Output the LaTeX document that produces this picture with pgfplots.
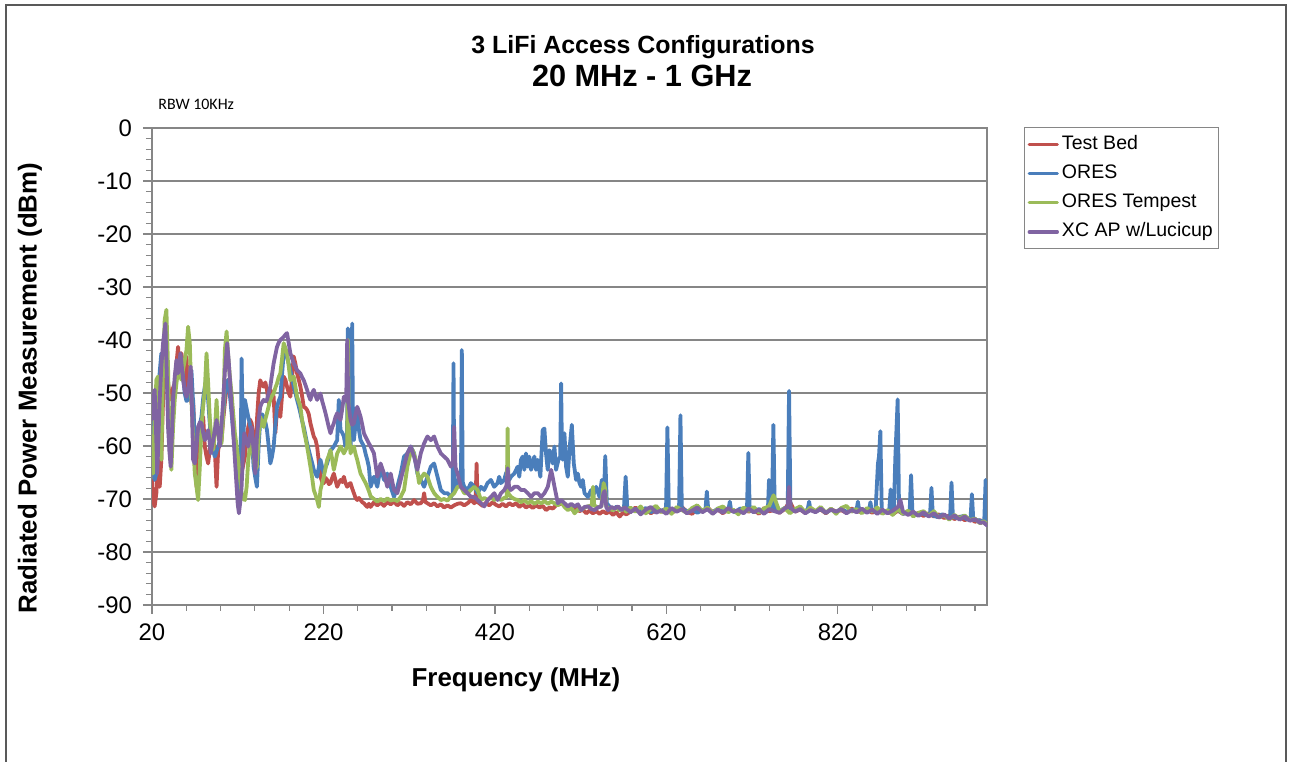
\documentclass[border=0pt]{standalone}
\usepackage{pgfplots}
\pgfplotsset{compat=1.18}
\usepackage{fontspec}
\setmainfont{Liberation Sans}
\newfontfamily\calibri{Carlito}

\definecolor{tbred}{RGB}{192,80,77}
\definecolor{oblue}{RGB}{74,126,187}
\definecolor{otgreen}{RGB}{155,187,89}
\definecolor{xcpurple}{RGB}{128,100,162}
\definecolor{gridgray}{RGB}{134,134,134}
\definecolor{framegray}{RGB}{89,89,89}

\begin{document}
\begin{tikzpicture}
\useasboundingbox (0,0) rectangle (645bp,381bp);
% chart area border (open at the bottom edge of the page)
\draw[framegray, line width=0.8bp] (3bp,-2bp) -- (3bp,378.5bp) -- (643bp,378.5bp) -- (643bp,-2bp);
\node[font=\bfseries\fontsize{12.5}{15}\selectfont] at (321.5bp,357.5bp) {3 LiFi Access Configurations};
\node[font=\bfseries\fontsize{15.4}{18}\selectfont] at (321bp,343bp) {20 MHz - 1 GHz};
\node[anchor=west, font=\calibri\fontsize{8}{10}\selectfont, inner sep=0pt] at (79bp,329bp) {RBW 10KHz};
\node[font=\bfseries\fontsize{13}{15}\selectfont] at (258bp,41bp) {Frequency (MHz)};
\node[font=\bfseries\fontsize{13}{15}\selectfont, rotate=90] at (15bp,187bp) {Radiated Power Measurement (dBm)};

\begin{axis}[
  at={(76bp,78.5bp)}, anchor=south west,
  scale only axis, width=417.5bp, height=238.5bp,
  xmin=20, xmax=994, ymin=-90, ymax=0,
  xtick={20,220,420,620,820},
  minor xtick={60,100,...,980},
  ytick={-90,-80,...,0},
  minor ytick={-88,-86,...,-2},
  tick align=outside,
  xtick pos=left, ytick pos=left,
  major tick length=4.5bp, minor tick length=3bp,
  every tick/.style={gridgray, line width=0.6bp},
  ymajorgrids, major grid style={gridgray, line width=0.6bp},
  axis line style={gridgray, line width=0.6bp},
  ticklabel style={font=\fontsize{12}{14}\selectfont},
  yticklabel style={xshift=-2bp},
  xticklabel style={yshift=-1.5bp},
  /pgf/number format/assume math mode=true,
  clip=true,
  legend style={at={(1.0443,1.002)}, anchor=north west, draw=gridgray, line width=0.6bp,
    font=\fontsize{9.8}{11}\selectfont, legend cell align=left,
    inner xsep=1.5bp, inner ysep=1bp,
    nodes={inner xsep=1.5bp, inner ysep=2.6bp, text height=7.2bp, text depth=2.2bp}},
  legend image code/.code={\draw[#1, line width=1.7bp] (0bp,0bp) -- (14bp,0bp);},
  every axis plot/.append style={line width=1.9bp, line join=round, line cap=round},
]
% Test Bed
\addplot[tbred] coordinates {
(20.0,-66.5) (21.2,-70.2) (23.1,-71.4) (25.1,-68.9) (27.0,-62.6) (29.0,-67.7) (30.9,-62.6) (32.9,-51.3)
(34.8,-45.0) (36.8,-41.3) (38.7,-48.2) (40.7,-50.5) (42.6,-51.3) (44.6,-49.0) (46.5,-48.2) (48.5,-44.5)
(50.4,-41.3) (52.4,-46.9) (54.3,-42.5) (56.3,-45.0) (58.2,-48.8) (60.2,-43.1) (62.1,-50.1) (64.1,-45.0)
(66.0,-51.9) (68.0,-51.3) (69.9,-59.5) (71.9,-67.7) (73.8,-60.1) (75.8,-59.0) (77.7,-57.6) (79.7,-54.5)
(81.6,-60.1) (83.6,-62.0) (85.5,-63.3) (87.5,-60.5) (89.4,-57.6) (91.4,-59.0) (93.3,-60.7) (95.3,-67.7)
(97.2,-60.7) (99.2,-59.5) (101.1,-58.9) (103.1,-55.0) (105.0,-51.9) (107.0,-49.0) (108.9,-47.5) (110.9,-49.0)
(112.8,-51.3) (114.8,-55.5) (116.7,-59.5) (118.7,-62.0) (120.6,-63.9) (122.6,-65.5) (124.5,-65.2) (126.5,-63.5)
(128.4,-62.0) (130.4,-58.5) (132.3,-56.4) (134.3,-55.0) (136.2,-55.7) (138.5,-58.2) (140.5,-65.8) (142.4,-55.1)
(144.4,-50.0) (146.3,-47.6) (148.3,-48.5) (150.2,-48.8) (152.2,-48.0) (154.1,-49.4) (156.1,-51.9) (158.0,-49.4)
(160.0,-50.0) (161.9,-50.7) (163.9,-57.5) (165.8,-53.2) (167.8,-53.5) (169.7,-54.5) (171.7,-50.5) (173.6,-46.9)
(175.6,-47.5) (177.5,-48.8) (179.5,-50.0) (181.4,-50.7) (183.4,-47.0) (185.3,-43.1) (187.3,-44.5) (189.2,-46.3)
(191.2,-47.5) (193.1,-48.8) (195.0,-50.5) (197.0,-52.6) (199.0,-52.8) (200.9,-53.2) (202.9,-54.0) (204.8,-55.7)
(206.8,-57.0) (208.7,-58.2) (210.7,-58.8) (212.6,-60.1) (214.6,-63.0) (216.5,-65.8) (218.5,-66.8) (220.4,-67.0)
(222.4,-66.0) (224.3,-66.4) (226.3,-67.2) (228.2,-67.0) (230.2,-66.0) (232.1,-65.2) (234.1,-66.5) (236.0,-67.7)
(237.9,-67.0) (239.9,-66.4) (241.9,-66.8) (243.8,-65.8) (245.7,-67.0) (247.7,-67.7) (249.6,-67.2) (251.6,-67.0)
(253.5,-68.0) (255.5,-68.9) (257.4,-69.8) (259.4,-70.2) (261.4,-69.8) (263.3,-70.2) (265.3,-70.6) (267.2,-70.8)
(269.2,-71.2) (271.1,-71.5) (273.0,-70.9) (275.0,-71.5) (278.9,-70.6) (282.8,-71.2) (286.7,-70.7) (290.6,-71.3)
(294.5,-70.6) (298.4,-71.0) (302.3,-70.5) (306.2,-71.2) (310.1,-70.7) (314.0,-71.3) (317.9,-70.6) (321.8,-71.0)
(325.7,-70.2) (329.6,-70.9) (333.5,-70.8) (336.0,-70.3) (337.4,-68.9) (339.0,-70.6) (341.3,-70.8) (345.2,-71.2)
(349.1,-70.8) (353.0,-71.4) (356.9,-71.0) (360.8,-71.6) (364.7,-71.2) (368.6,-71.6) (372.5,-71.2) (376.4,-70.9)
(380.3,-70.8) (384.2,-71.2) (388.1,-70.8) (392.0,-70.2) (395.9,-70.8) (397.5,-70.5) (398.6,-63.3) (399.8,-70.6)
(401.7,-70.8) (405.6,-71.3) (409.5,-70.7) (413.4,-71.2) (417.3,-70.6) (421.2,-71.1) (425.1,-71.4) (429.0,-70.9)
(432.9,-71.4) (436.8,-70.8) (440.7,-71.2) (444.6,-70.8) (448.5,-71.5) (452.4,-71.0) (456.3,-71.6) (460.2,-71.2)
(464.1,-71.7) (468.0,-71.2) (471.9,-71.6) (475.8,-71.3) (479.7,-72.1) (483.6,-71.6) (487.5,-71.8) (491.4,-71.2)
(495.3,-71.0) (499.2,-70.8) (503.1,-71.6) (507.0,-71.4) (510.9,-72.1) (514.8,-71.8) (518.7,-72.3) (522.6,-72.0)
(526.5,-72.7) (530.4,-72.2) (534.3,-72.7) (538.2,-72.3) (542.1,-72.8) (546.0,-72.3) (549.9,-72.7) (553.8,-72.4)
(557.7,-73.0) (561.6,-72.5) (565.5,-73.3) (569.4,-72.6) (573.3,-72.9)
(578,-72.4) (584,-71.6) (590,-72.5) (596,-71.9) (602,-72.7) (608,-72.0) (614,-72.4) (620,-71.7)
(626,-72.6) (632,-72.1) (638,-71.5) (644,-72.4) (650,-72.8) (656,-71.9) (662,-72.3) (668,-71.6)
(674,-72.5) (680,-72.0) (686,-72.7) (692,-71.8) (698,-72.3) (704,-72.6) (710,-71.9) (716,-72.4)
(722,-72.0) (728,-72.8) (734,-71.7) (740,-72.3) (746,-72.1) (752,-72.6) (758,-71.9) (764,-70.5)
(770,-72.4) (776,-72.0) (782,-72.6) (788,-71.8) (794,-72.3) (800,-72.0) (806,-72.7) (812,-71.9)
(818,-72.4) (824,-72.1) (830,-72.6) (836,-71.8) (842,-72.3) (848,-72.5) (854,-71.9) (860,-72.6)
(866,-72.0) (872,-72.7) (878,-72.3) (884,-72.9) (890,-72.2) (896,-72.8) (902,-72.4) (908,-73.1)
(914,-72.6) (920,-73.2) (926,-72.7) (932,-73.3) (938,-72.9) (944,-73.6) (950,-73.1) (956,-73.8)
(962,-73.3) (968,-74.0) (974,-73.6) (980,-74.3) (986,-74.0) (990,-74.4) (994,-74.8)
};
\addlegendentry{Test Bed}
% ORES
\addplot[oblue] coordinates {
(20.0,-58.0) (21.2,-50.7) (23.1,-66.4) (25.1,-65.2) (27.0,-51.3) (29.0,-46.0) (30.9,-42.5) (32.9,-44.0)
(34.8,-41.3) (36.8,-40.0) (38.7,-53.2) (40.7,-55.0) (42.6,-56.4) (44.6,-52.0) (46.5,-48.2) (48.5,-47.0)
(50.4,-45.7) (52.4,-46.5) (54.3,-44.4) (56.3,-47.0) (58.2,-50.1) (60.2,-51.5) (62.1,-51.3) (64.1,-48.0)
(66.0,-45.7) (68.0,-52.0) (69.9,-58.9) (71.9,-58.0) (73.8,-57.0) (75.8,-56.0) (77.7,-54.5) (79.7,-51.0)
(81.6,-48.8) (83.6,-46.9) (85.5,-51.3) (87.5,-56.0) (89.4,-59.5) (91.4,-61.0) (93.3,-62.0) (95.3,-61.0)
(97.2,-60.1) (99.2,-59.0) (101.1,-57.6) (103.1,-54.0) (105.0,-50.1) (107.0,-48.5) (108.9,-47.5) (110.9,-50.5)
(112.8,-53.8) (114.8,-57.5) (116.7,-60.7) (118.7,-63.0) (120.6,-65.2) (122.0,-68.5) (122.6,-70.2) (123.6,-60.0)
(124.5,-43.5) (125.4,-52.0) (126.5,-58.9) (128.4,-51.3) (130.4,-53.0) (132.3,-54.5) (134.3,-56.0) (136.2,-57.6)
(138.5,-63.9) (140.5,-66.0) (142.4,-67.7) (144.4,-60.0) (146.3,-55.1) (148.3,-54.0) (150.2,-54.5) (152.2,-55.5)
(154.1,-57.0) (156.1,-60.0) (158.0,-63.3) (160.0,-62.0) (161.9,-60.1) (163.9,-56.0) (165.8,-52.6) (167.8,-51.5)
(169.7,-50.7) (171.7,-46.5) (173.6,-42.5) (175.6,-42.8) (177.5,-43.1) (179.5,-44.5) (181.4,-45.7) (183.4,-47.2)
(185.3,-48.8) (187.3,-50.0) (189.2,-51.3) (191.2,-52.5) (193.1,-53.8) (195.0,-55.2) (197.0,-56.4) (199.0,-58.0)
(200.9,-59.5) (202.9,-60.8) (204.8,-62.0) (206.8,-63.2) (208.7,-64.5) (210.7,-65.2) (212.6,-65.8) (214.6,-64.0)
(216.5,-62.6) (218.5,-64.0) (220.4,-65.2) (222.4,-64.0) (224.3,-63.3) (226.3,-62.0) (228.2,-60.8) (230.2,-60.5)
(232.1,-60.1) (234.1,-59.5) (236.0,-58.9) (237.9,-51.3) (239.9,-57.0) (241.9,-57.5) (243.8,-58.2) (245.7,-60.1)
(247.5,-58.0) (248.5,-37.8) (249.6,-58.0) (251.6,-60.1) (252.5,-57.0) (253.5,-36.9) (254.5,-57.0) (255.5,-58.9)
(257.4,-56.0) (259.4,-53.2) (261.4,-57.0) (263.3,-58.9) (265.3,-59.5) (267.2,-60.1) (269.2,-61.5) (271.1,-62.6)
(273.0,-64.0) (275.0,-67.7) (278.9,-65.8) (282.8,-67.7) (286.7,-63.9) (290.6,-66.4) (294.5,-65.2) (298.4,-67.7)
(302.3,-69.6) (306.2,-67.7) (310.1,-65.2) (314.0,-62.0) (317.9,-61.4) (321.8,-60.1) (325.7,-61.4) (329.6,-65.2)
(333.5,-66.4) (337.4,-67.7) (341.3,-65.8) (345.2,-63.9) (349.1,-63.3) (353.0,-65.8) (356.9,-68.3) (360.8,-68.9)
(364.7,-68.9) (368.6,-69.6) (370.8,-69.0) (371.7,-44.4) (372.6,-68.5) (374.4,-67.7) (378.3,-65.8) (380.4,-66.5)
(381.4,-41.9) (382.4,-66.8) (384.2,-67.7) (388.1,-68.3) (392.0,-67.0) (395.9,-67.7) (399.8,-68.9) (403.7,-67.7)
(407.5,-68.3) (411.4,-67.0) (415.3,-66.4) (419.2,-67.7) (423.1,-67.0) (425.0,-65.8) (427.0,-67.0) (430.9,-66.4)
(432.8,-65.2) (434.8,-64.5) (436.7,-66.4) (438.7,-65.8) (442.6,-65.2) (446.5,-63.9) (448.4,-65.8) (450.4,-62.6)
(452.3,-62.0) (454.3,-64.5) (456.2,-61.4) (458.2,-63.9) (460.1,-62.0) (462.1,-64.5) (464.0,-63.3) (466.0,-62.0)
(467.9,-64.5) (469.9,-62.6) (473.0,-65.8) (475.7,-57.0) (477.7,-56.7) (479.6,-61.4) (481.6,-64.5) (483.5,-60.8)
(485.5,-61.4) (487.4,-63.3) (489.4,-60.1) (491.3,-64.5) (494.1,-62.6) (496.2,-62.0) (497.2,-48.2) (498.2,-61.0)
(499.1,-62.6) (501.1,-57.6) (503.0,-63.9) (505.0,-65.8) (506.9,-60.8) (509.7,-56.0) (512.0,-63.3) (514.7,-66.4)
(516.7,-65.2) (518.6,-67.0) (520.6,-67.7) (522.5,-66.4) (524.5,-68.9) (528.4,-69.6) (532.3,-68.3) (534.2,-69.6)
(538.1,-67.7) (542.0,-69.6) (544.7,-66.4) (547.0,-70.2) (548.7,-61.9) (550.5,-70.8) (554.0,-71.5) (558.0,-72.1)
(562.0,-71.4) (566.0,-72.0) (570.5,-71.8) (572.5,-65.8) (574.5,-72.0)
(578,-72.4) (584,-71.9) (590,-72.3) (596,-71.7) (602,-72.5) (608,-71.8) (614,-72.2) (619.6,-72.0)
(621.2,-56.5) (622.8,-71.8) (628,-72.3) (634.8,-71.9) (636.4,-54.2) (638,-71.7) (644,-72.4) (650,-71.9)
(656,-72.6) (662,-72.1) (665.6,-72.0) (667.2,-68.6) (668.8,-72.0) (674,-72.5) (680,-71.8) (686,-72.4)
(692.5,-71.9) (694,-70.5) (695.5,-72.1) (700,-72.5) (706,-71.8) (714,-72.2) (715.6,-61.3) (717.2,-72.0)
(722,-72.5) (728,-71.9) (734,-72.4) (738.5,-71.8) (739.7,-66.4) (741,-70.5) (743.2,-71.5) (744.8,-56.0)
(746.4,-71.9) (752,-72.3) (758,-71.7) (761.5,-72.0) (763.1,-49.6) (764.7,-71.8) (770,-72.3) (776,-71.9)
(782,-72.5) (785,-71.8) (786.5,-70.5) (788,-72.0) (794,-72.4) (800,-71.9) (806,-72.6) (812,-72.0)
(818,-72.5) (824,-71.8) (830,-72.4) (836,-72.1) (842,-71.9) (843.4,-70.5) (845,-72.2) (850,-72.4)
(856.5,-72.0) (858,-70.6) (859.5,-72.2) (864,-72.3) (866.8,-63.3) (868,-62.0) (869.6,-57.2) (871.2,-72.0)
(876,-72.6) (880,-72.0) (881.6,-68.2) (883,-72.3) (885.5,-71.5) (887,-62.5) (889.8,-51.2) (891.4,-72.2)
(896,-72.8) (902,-72.5) (903.8,-72.3) (905.4,-65.5) (907,-72.4) (912,-73.0) (918,-72.6) (924,-73.1)
(927.6,-72.9) (929.2,-67.9) (930.8,-73.1) (936,-73.4) (942,-72.9) (948,-73.5) (951,-73.2) (952.6,-66.9)
(954.2,-73.4) (960,-73.6) (966,-73.2) (971,-73.9) (974.8,-73.6) (976.4,-69.1) (978,-73.9) (984,-74.0)
(989,-74.3) (990.8,-74.1) (992.4,-66.4) (993.4,-74.5) (994,-75.0)
};
\addlegendentry{ORES}
% ORES Tempest
\addplot[otgreen] coordinates {
(20.0,-60.0) (21.2,-65.2) (23.1,-54.5) (25.1,-47.5) (27.0,-46.9) (29.0,-57.6) (30.9,-62.6) (32.9,-45.0)
(34.8,-36.2) (36.8,-34.3) (38.7,-45.0) (40.7,-60.7) (42.6,-64.5) (44.6,-56.4) (46.5,-51.3) (48.5,-48.2)
(50.4,-45.7) (52.4,-46.5) (54.3,-47.5) (56.3,-45.5) (58.2,-43.8) (60.2,-41.9) (62.1,-37.5) (64.1,-40.6)
(66.0,-51.3) (68.0,-58.9) (69.9,-65.2) (71.9,-67.7) (73.8,-70.2) (75.8,-63.9) (77.7,-56.4) (79.7,-52.5)
(81.6,-49.4) (83.6,-42.5) (85.5,-48.2) (87.5,-55.0) (89.4,-58.9) (91.4,-60.7) (93.3,-57.6) (95.3,-51.3)
(97.2,-57.6) (99.2,-59.0) (101.1,-59.5) (103.1,-53.8) (105.0,-41.9) (107.0,-38.4) (108.9,-43.1) (110.9,-47.0)
(112.8,-50.1) (114.8,-54.0) (116.7,-57.6) (118.7,-60.0) (120.6,-62.6) (122.6,-66.0) (124.5,-68.9) (126.5,-70.0)
(128.4,-70.2) (130.4,-67.7) (132.3,-62.6) (134.3,-60.0) (136.2,-58.9) (138.5,-62.0) (140.5,-64.5) (142.4,-63.9)
(144.4,-58.0) (146.3,-54.5) (148.3,-55.5) (150.2,-56.4) (152.2,-55.0) (154.1,-53.8) (156.1,-52.5) (158.0,-51.3)
(160.0,-50.5) (161.9,-50.1) (163.9,-49.0) (165.8,-48.2) (167.8,-47.0) (169.7,-46.3) (171.7,-43.5) (173.6,-40.6)
(175.6,-41.5) (177.5,-42.5) (179.5,-45.0) (181.4,-47.6) (183.4,-47.2) (185.3,-46.9) (187.3,-48.8) (189.2,-50.7)
(191.2,-51.6) (193.1,-52.6) (195.0,-55.0) (197.0,-57.0) (199.0,-58.5) (200.9,-60.1) (202.9,-62.0) (204.8,-63.9)
(206.8,-66.0) (208.7,-68.3) (210.7,-69.2) (212.6,-70.2) (214.6,-71.5) (216.5,-68.3) (218.5,-67.0) (220.4,-65.8)
(222.4,-64.2) (224.3,-62.6) (226.3,-61.8) (228.2,-60.8) (230.2,-62.5) (232.1,-64.5) (234.1,-63.0) (236.0,-61.4)
(237.9,-60.8) (239.9,-60.1) (241.9,-60.7) (243.8,-61.4) (246.5,-60.5) (247.7,-60.1) (248.6,-40.0) (249.6,-57.0)
(251.6,-61.4) (253.5,-60.5) (255.5,-60.1) (257.4,-61.5) (259.4,-62.6) (261.4,-64.0) (263.3,-65.2) (265.3,-65.8)
(267.2,-66.4) (269.2,-67.0) (271.1,-67.7) (273.0,-68.5) (275.0,-69.5) (278.9,-70.0) (282.8,-70.5) (286.7,-70.0)
(290.6,-70.4) (294.5,-69.9) (298.4,-70.3) (302.3,-70.1) (306.2,-70.4) (310.1,-69.6) (314.0,-68.3) (317.9,-63.9)
(321.8,-61.2) (323.8,-60.7) (325.7,-61.5) (327.6,-62.6) (331.5,-67.0) (334.0,-66.0) (337.4,-65.2) (341.3,-65.8)
(345.2,-67.7) (349.1,-68.9) (353.0,-69.6) (356.9,-70.2) (360.8,-70.0) (364.7,-70.3) (368.6,-69.5) (372.5,-68.9)
(376.4,-67.7) (380.3,-67.7) (384.2,-68.9) (388.1,-68.9) (392.0,-68.3) (395.9,-67.7) (399.8,-68.3) (403.7,-70.2)
(407.6,-69.8) (411.5,-70.2) (415.4,-69.7) (419.3,-70.2) (423.2,-69.8) (427.1,-70.2) (430.9,-69.8) (433.8,-69.6)
(434.8,-56.7) (435.8,-69.0) (438.8,-69.6) (442.7,-70.0) (446.6,-70.2) (450.5,-70.6) (454.4,-70.2) (458.3,-70.8)
(462.2,-70.4) (466.1,-70.9) (470.0,-70.5) (473.9,-70.8) (477.8,-70.4) (481.7,-70.9) (485.6,-70.5) (489.5,-70.8)
(493.4,-71.2) (497.3,-70.6) (501.2,-71.5) (505.1,-72.1) (509.0,-71.6) (512.9,-72.7) (516.8,-72.0) (520.7,-72.1)
(524.6,-71.6) (528.5,-71.4) (533.0,-71.2) (534.4,-67.7) (535.8,-71.2) (540.0,-71.6) (544.1,-71.4) (546.8,-67.0)
(548.5,-68.0) (549.9,-71.4) (553.8,-71.9) (557.7,-72.1) (561.6,-71.6) (565.5,-72.2) (569.4,-71.7) (573.3,-72.4)
(578,-71.6) (584,-72.4) (590,-71.4) (596,-72.7) (602,-71.9) (608,-71.3) (614,-72.5) (620,-71.8)
(626,-72.8) (632,-71.5) (638,-72.1) (644,-72.6) (650,-71.7) (656,-71.2) (662,-72.3) (668,-71.6)
(674,-72.7) (680,-71.8) (686,-71.4) (692,-72.5) (698,-72.0) (704,-72.9) (710,-71.6) (716,-72.3)
(722,-71.5) (728,-72.6) (734,-71.8) (740,-71.3) (745,-69.3) (752,-72.4) (758,-71.7) (764,-72.7)
(770,-71.9) (776,-71.4) (782,-72.5) (788,-71.6) (794,-72.3) (800,-71.5) (806,-72.6) (812,-71.8)
(818,-72.8) (824,-71.7) (830,-71.3) (836,-72.4) (842,-71.9) (848,-72.7) (854,-71.7) (860,-72.4)
(866,-71.6) (872,-72.8) (878,-72.1) (884,-73.0) (890,-71.9) (896,-72.8) (902,-72.2) (908,-73.3)
(914,-72.6) (920,-72.3) (926,-73.2) (932,-72.3) (938,-73.5) (944,-73.0) (950,-73.9) (956,-73.0)
(962,-73.7) (968,-73.1) (974,-74.0) (980,-73.7) (986,-74.6) (990,-74.2) (994,-74.7)
};
\addlegendentry{ORES Tempest}
% XC AP w/Lucicup
\addplot[xcpurple] coordinates {
(20.0,-55.0) (21.2,-51.3) (23.1,-49.4) (24.5,-56.0) (26.2,-65.2) (27.6,-58.0) (29.0,-51.3) (30.9,-45.0)
(32.9,-40.6) (35.6,-36.9) (37.2,-46.0) (38.7,-56.4) (40.3,-61.0) (41.8,-63.9) (43.2,-58.0) (44.6,-51.3)
(46.5,-47.0) (48.5,-43.8) (50.4,-46.3) (53.2,-42.5) (54.8,-45.0) (56.3,-47.5) (58.2,-49.5) (60.2,-50.7)
(62.9,-48.8) (65.2,-45.0) (66.5,-52.0) (68.0,-62.6) (69.9,-63.3) (71.9,-60.0) (73.8,-56.4) (75.8,-55.5)
(77.7,-55.7) (79.7,-57.5) (81.6,-58.9) (83.6,-58.0) (85.5,-57.0) (87.5,-59.5) (88.6,-61.4) (90.0,-60.0)
(91.4,-58.9) (93.3,-57.0) (95.3,-55.1) (97.2,-57.5) (99.2,-60.1) (101.1,-56.0) (103.1,-51.3) (105.0,-46.0)
(107.7,-40.6) (109.3,-43.5) (110.9,-47.5) (112.8,-52.5) (114.8,-57.6) (116.7,-62.5) (118.7,-67.7) (120.0,-71.0)
(121.4,-72.7) (123.0,-70.5) (124.5,-67.7) (126.0,-62.0) (127.6,-57.6) (130.0,-59.0) (132.3,-60.1) (134.3,-58.0)
(136.2,-56.4) (138.5,-60.8) (140.5,-65.2) (142.4,-58.2) (144.4,-55.0) (146.3,-52.6) (148.3,-51.8) (150.2,-51.3)
(152.2,-51.6) (154.1,-51.3) (156.1,-50.0) (158.0,-48.8) (160.0,-46.5) (161.9,-44.4) (163.9,-42.8) (165.8,-41.3)
(167.8,-40.5) (169.7,-40.0) (171.7,-39.7) (173.6,-39.4) (175.6,-39.0) (177.5,-38.7) (179.5,-40.6) (181.4,-42.5)
(183.4,-43.5) (185.3,-44.4) (187.3,-45.0) (189.2,-45.7) (191.2,-46.0) (193.1,-46.3) (195.0,-47.0) (197.0,-47.6)
(199.0,-48.5) (200.9,-49.4) (202.9,-50.5) (204.8,-51.3) (206.8,-50.0) (208.7,-49.4) (210.7,-50.5) (212.6,-51.3)
(214.6,-50.5) (216.5,-50.1) (218.5,-51.5) (220.4,-52.6) (222.4,-53.8) (224.3,-55.1) (226.3,-56.5) (228.2,-57.6)
(230.2,-56.5) (232.1,-55.7) (234.1,-54.5) (236.0,-53.8) (237.9,-54.5) (239.9,-55.1) (241.9,-53.0) (243.8,-50.7)
(246.5,-51.5) (247.7,-40.0) (249.0,-51.9) (251.6,-55.1) (253.5,-56.0) (255.5,-55.7) (257.4,-54.0) (259.4,-52.6)
(261.4,-53.5) (263.3,-54.5) (265.3,-56.0) (267.2,-57.6) (269.2,-58.3) (271.1,-58.9) (273.0,-59.5) (275.0,-60.1)
(278.9,-61.4) (282.8,-65.8) (286.7,-63.3) (290.6,-65.2) (294.5,-67.7) (298.4,-65.2) (302.3,-68.3) (306.2,-68.9)
(310.1,-66.4) (314.0,-63.9) (317.9,-61.4) (321.8,-60.1) (325.7,-62.0) (329.6,-64.5) (333.5,-61.4) (337.4,-59.5)
(341.3,-58.2) (345.2,-58.9) (349.1,-58.2) (353.0,-60.1) (356.9,-61.4) (360.8,-62.0) (364.7,-62.6) (368.6,-63.9)
(371.0,-63.0) (372.5,-56.4) (374.0,-64.0) (376.4,-65.2) (380.3,-67.7) (384.2,-68.3) (388.1,-68.9) (392.0,-69.6)
(395.9,-69.6) (399.8,-70.2) (403.7,-70.8) (407.6,-71.4) (411.5,-70.2) (415.4,-69.6) (419.3,-68.9) (423.2,-70.2)
(427.1,-68.9) (431.0,-68.3) (433.5,-67.5) (434.9,-64.2) (436.5,-67.8) (438.8,-68.3) (442.7,-67.7) (446.6,-67.7)
(450.5,-68.3) (454.4,-68.3) (458.3,-68.9) (462.2,-69.6) (466.1,-68.9) (470.0,-68.9) (473.9,-69.6) (477.8,-68.9)
(481.7,-67.7) (485.6,-64.5) (487.5,-66.0) (489.5,-67.7) (493.4,-70.8) (497.3,-70.2) (501.2,-70.8) (505.1,-71.4)
(509.0,-70.9) (512.9,-71.4) (516.8,-71.0) (520.7,-72.1) (524.6,-71.5) (528.5,-71.4) (532.4,-71.9) (536.3,-72.1)
(540.2,-71.6) (544.1,-71.4) (546.5,-69.0) (548.0,-68.5) (550.0,-71.6) (551.9,-72.1) (555.8,-71.5) (559.7,-71.8)
(563.6,-71.4) (567.5,-72.1) (571.4,-71.6) (575.3,-72.1)
(578,-72.5) (584,-71.8) (590,-72.9) (596,-72.0) (602,-71.5) (608,-72.6) (614,-72.1) (620,-72.8)
(626,-71.7) (632,-72.4) (638,-71.9) (644,-72.7) (650,-72.2) (656,-71.6) (662,-72.5) (668,-71.9)
(674,-72.8) (680,-72.0) (686,-72.6) (692,-71.7) (698,-72.4) (704,-72.1) (710,-72.7) (716,-71.8)
(722,-72.5) (728,-72.0) (734,-72.8) (740,-71.9) (746,-72.3) (752,-72.6) (758,-71.8) (761.5,-71.5)
(763.1,-67.7) (764.7,-71.6) (770,-72.4) (776,-71.9) (782,-72.7) (788,-72.1) (794,-72.5) (800,-71.8)
(806,-72.6) (812,-72.0) (818,-72.4) (824,-71.9) (830,-72.7) (836,-72.1) (842,-72.5) (848,-71.8)
(854,-72.6) (860,-72.0) (866,-72.8) (872,-72.0) (878,-72.7) (884,-72.2) (890,-71.5) (893,-70.2)
(896,-72.4) (902,-73.0) (908,-72.4) (914,-73.2) (920,-72.5) (926,-73.3) (932,-72.7) (938,-73.5)
(944,-72.9) (950,-73.7) (956,-73.1) (962,-73.9) (968,-73.3) (974,-74.1) (980,-73.8) (986,-74.5)
(990,-74.4) (994,-75.0)
};
\addlegendentry{XC AP w/Lucicup}
\end{axis}
\end{tikzpicture}
\end{document}
